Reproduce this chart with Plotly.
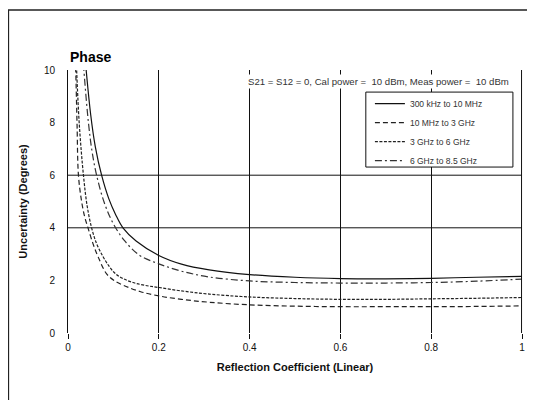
import plotly.graph_objects as go

FONT = "Liberation Sans, Arial, sans-serif"

# series: reflection coefficient -> phase uncertainty (deg)
names = ["300 kHz to 10 MHz", "10 MHz to 3 GHz", "3 GHz to 6 GHz", "6 GHz to 8.5 GHz"]

x_lf = [0.036, 0.04, 0.05, 0.06, 0.074, 0.09, 0.105, 0.121, 0.15, 0.2, 0.25, 0.311, 0.4, 0.5, 0.6, 0.7, 0.8, 0.9, 1.0]
y_lf = [10.8, 10.0, 8.3, 7.1, 6.0, 5.1, 4.5, 4.0, 3.5, 2.95, 2.62, 2.4, 2.22, 2.12, 2.07, 2.06, 2.08, 2.12, 2.15]

x_mid = [0.015, 0.017, 0.02, 0.023, 0.03, 0.037, 0.044, 0.055, 0.066, 0.085, 0.103, 0.128, 0.16, 0.2, 0.25, 0.311, 0.4, 0.5, 0.6, 0.7, 0.8, 0.9, 1.0]
y_mid = [11.0, 10.0, 7.9, 6.0, 5.0, 4.4, 4.0, 3.4, 2.91, 2.25, 1.98, 1.77, 1.57, 1.41, 1.28, 1.17, 1.07, 1.02, 1.0, 1.0, 1.0, 1.01, 1.03]

x_hi = [0.017, 0.019, 0.025, 0.034, 0.042, 0.052, 0.063, 0.077, 0.09, 0.103, 0.12, 0.143, 0.17, 0.2, 0.25, 0.311, 0.4, 0.5, 0.6, 0.7, 0.8, 0.9, 1.0]
y_hi = [11.0, 10.0, 7.9, 6.0, 4.85, 4.0, 3.4, 2.91, 2.55, 2.28, 2.08, 1.92, 1.81, 1.73, 1.6, 1.48, 1.37, 1.31, 1.28, 1.28, 1.3, 1.32, 1.35]

x_top = [0.032, 0.035, 0.045, 0.053, 0.063, 0.08, 0.1, 0.125, 0.158, 0.2, 0.25, 0.311, 0.4, 0.5, 0.6, 0.7, 0.8, 0.9, 1.0]
y_top = [10.8, 10.0, 8.0, 6.9, 6.0, 4.95, 4.15, 3.5, 2.95, 2.63, 2.35, 2.13, 1.98, 1.92, 1.9, 1.9, 1.92, 1.97, 2.05]

xs = [x_lf, x_mid, x_hi, x_top]
ys = [y_lf, y_mid, y_hi, y_top]
dashes = ["solid", "5px,3px", "3px,1.5px", "7px,3px,2px,3px"]
colors = ["#111111", "#222222", "#222222", "#333333"]

fig = go.Figure()
for name, x, y, dash, col in zip(names, xs, ys, dashes, colors):
    fig.add_trace(go.Scatter(x=x, y=y, mode="lines", name=name, line_shape="spline",
                             line=dict(color=col, width=1.2, dash=dash)))

# page body adds an 8px margin, so the figure is a bit smaller than the window
fig.update_layout(
    width=527, height=392,
    margin=dict(l=60, r=10, t=62, b=67),
    paper_bgcolor="white", plot_bgcolor="white",
    font=dict(family=FONT, color="#111111", size=10),
    legend=dict(x=0.665, y=0.927, xanchor="left", yanchor="top", bgcolor="rgba(0,0,0,0)",
                borderwidth=0, font=dict(size=8.5, color="#333333"),
                itemwidth=30, tracegroupgap=0),
    showlegend=True,
)
fig.update_xaxes(range=[0, 1], tickvals=[0, 0.2, 0.4, 0.6, 0.8, 1], ticktext=["0", "0.2", "0.4", "0.6", "0.8", "1"],
                 showgrid=True, gridcolor="#111111", gridwidth=1,
                 ticks="outside", ticklen=5, tickcolor="#111111", zeroline=False, showline=False,
                 title=dict(text="<b>Reflection Coefficient (Linear)</b>", font=dict(size=11), standoff=11))
fig.update_yaxes(range=[0, 10], dtick=2, showgrid=False, zeroline=False, showline=True,
                 linecolor="#111111", linewidth=1, ticks="", ticklabelstandoff=10,
                 title=dict(text="<b>Uncertainty (Degrees)</b>", font=dict(size=11), standoff=14))

# only the 4 and 6 degree rules are drawn across the plot, plus the rule at the right edge
for yv in [4, 6]:
    fig.add_shape(type="line", xref="x domain", yref="y", x0=0, x1=1, y0=yv, y1=yv,
                  line=dict(color="#111111", width=1), layer="below")
fig.add_shape(type="line", xref="x domain", yref="y domain", x0=0.999, x1=0.999, y0=0, y1=1,
              line=dict(color="#111111", width=1), layer="above")

# legend frame (tighter than plotly's own legend box)
fig.add_shape(type="rect", xref="paper", yref="paper", x0=0.656, x1=0.980, y0=0.631, y1=0.916,
              line=dict(color="#111111", width=1), fillcolor="white", layer="above")

# outer frame of the page
fig.add_shape(type="rect", xref="paper", yref="paper", x0=-0.1313, x1=1.05, y0=-0.4, y1=1.228,
              line=dict(color="#222222", width=1.5))

fig.add_annotation(text="<b>Phase</b>", xref="paper", yref="paper", x=0, y=1.049,
                   xanchor="left", yanchor="middle", showarrow=False, font=dict(size=14, color="#000000"))
fig.add_annotation(text="S21 = S12 = 0, Cal power =  10 dBm, Meas power =  10 dBm",
                   xref="paper", yref="paper", x=0.683, y=0.958, xanchor="center", yanchor="middle",
                   showarrow=False, bgcolor="white", font=dict(size=9.6, color="#333333"))

fig.write_html("out.html")
